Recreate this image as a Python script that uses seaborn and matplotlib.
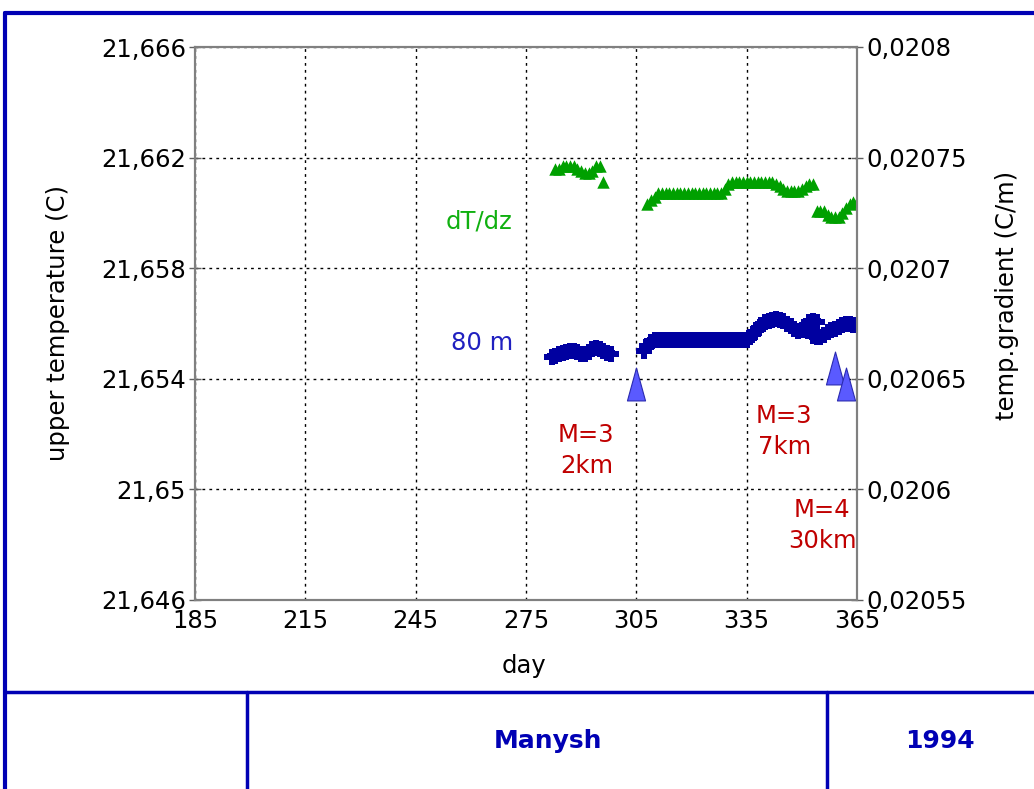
import matplotlib
matplotlib.use("Agg")
import matplotlib.pyplot as plt
import seaborn as sns
from matplotlib.path import Path
from matplotlib.lines import Line2D

# ---- data ----
# green: temperature gradient dT/dz (right axis, C/m)
grad_days = [283, 284, 285, 286, 287, 288, 289, 290, 291, 292, 293, 294, 295, 296,
             308, 309, 310, 311, 312, 313, 314, 315, 316, 317, 318, 319, 320, 321,
             322, 323, 324, 325, 326, 327, 328, 329, 330, 331, 332, 333, 334, 335,
             336, 337, 338, 339, 340, 341, 342, 343, 344, 345, 346, 347, 348, 349,
             350, 351, 352, 353,
             354, 355, 356, 357, 358, 359, 360, 361, 362, 363, 364, 365]
grad_vals = [0.020745, 0.020745, 0.020746, 0.020746, 0.020746, 0.020746, 0.020745,
             0.020744, 0.020743, 0.020743, 0.020744, 0.020746, 0.020746, 0.020739,
             0.020729, 0.020731, 0.020732, 0.020734, 0.020734, 0.020734, 0.020734,
             0.020734, 0.020734, 0.020734, 0.020734, 0.020734, 0.020734, 0.020734,
             0.020734, 0.020734, 0.020734, 0.020734, 0.020734, 0.020734, 0.020734,
             0.020736, 0.020738, 0.020739, 0.020739, 0.020739, 0.020739, 0.020739,
             0.020739, 0.020739, 0.020739, 0.020739, 0.020739, 0.020739, 0.020739,
             0.020738, 0.020737, 0.020736, 0.020735, 0.020735, 0.020735, 0.020735,
             0.020736, 0.020737, 0.020738, 0.020738,
             0.020726, 0.020726, 0.020726, 0.020724, 0.020723, 0.020723, 0.020723,
             0.020725, 0.020727, 0.020729, 0.020730, 0.020730]

# blue: upper temperature at 80 m (left axis, C)
temp_days = [282, 283, 284, 285, 286, 287, 288, 289, 290, 291, 292, 293, 294, 295,
             296, 297, 298,
             307, 308, 309, 310, 311, 312, 313, 314, 315, 316, 317, 318, 319, 320,
             321, 322, 323, 324, 325, 326, 327, 328, 329, 330, 331, 332, 333, 334,
             335, 336, 337, 338, 339, 340, 341, 342, 343, 344, 345, 346, 347, 348,
             349, 350, 351, 352, 353, 354,
             353, 354, 355, 356, 357, 358, 359, 360, 361, 362, 363, 364, 365]
temp_vals = [21.65478, 21.65482, 21.65488, 21.65494, 21.65498, 21.65500, 21.65502,
             21.65496, 21.65490, 21.65488, 21.65496, 21.65506, 21.65512, 21.65508,
             21.65500, 21.65494, 21.65490,
             21.65500, 21.65520, 21.65532, 21.65540, 21.65540, 21.65540, 21.65540,
             21.65540, 21.65540, 21.65540, 21.65540, 21.65540, 21.65540, 21.65540,
             21.65540, 21.65540, 21.65540, 21.65540, 21.65540, 21.65540, 21.65540,
             21.65540, 21.65540, 21.65540, 21.65540, 21.65540, 21.65540, 21.65540,
             21.65540, 21.65550, 21.65565, 21.65580, 21.65595, 21.65605, 21.65610,
             21.65612, 21.65615, 21.65612, 21.65608, 21.65600, 21.65590, 21.65580,
             21.65572, 21.65575, 21.65590, 21.65605, 21.65610, 21.65605,
             21.65555, 21.65552, 21.65550, 21.65558, 21.65568, 21.65575, 21.65580,
             21.65588, 21.65595, 21.65600, 21.65598, 21.65596, 21.65595]

# earthquakes
quake_days = [305, 359, 362]
quake_vals = [21.6538, 21.6544, 21.6538]
quake_labels = ["M=3\n2km", "M=3\n7km", "M=4\n30km"]
quake_label_days = [291.4, 345.2, 355.5]
quake_label_vals = [21.6514, 21.6521, 21.6487]

x_ticks = [185, 215, 245, 275, 305, 335, 365]
left_ticks = [21.646, 21.65, 21.654, 21.658, 21.662, 21.666]
left_labels = ["21,646", "21,65", "21,654", "21,658", "21,662", "21,666"]
right_ticks = [0.02055, 0.0206, 0.02065, 0.0207, 0.02075, 0.0208]
right_labels = ["0,02055", "0,0206", "0,02065", "0,0207", "0,02075", "0,0208"]

station = "Manysh"
year = "1994"

sns.set_style("white")
plt.rcParams['font.family'] = ['DejaVu Sans']
plt.rcParams['text.color'] = 'black'
plt.rcParams['axes.labelcolor'] = 'black'
plt.rcParams['xtick.color'] = 'black'
plt.rcParams['ytick.color'] = 'black'

frame_blue = "#0000b4"
fs = 17.5

fig = plt.figure(figsize=(10.34, 7.89), dpi=100)
ax = fig.add_axes([195 / 1034, 1 - 600 / 789, 662 / 1034, 553 / 789])
ax2 = ax.twinx()

# blue temperature
sns.scatterplot(x=temp_days, y=temp_vals, ax=ax, marker="P", s=140,
                color="#0000a0", edgecolor="#0000a0", linewidth=0, legend=False, zorder=3)

# quake triangles (tall, narrow)
tri = Path([(0, 1), (-0.55, -1), (0.55, -1), (0, 1)],
           [Path.MOVETO, Path.LINETO, Path.LINETO, Path.CLOSEPOLY])
sns.scatterplot(x=quake_days, y=quake_vals, ax=ax, marker=tri, s=560,
                color="#5a5aff", edgecolor="#2a2ab0", linewidth=0.8, legend=False, zorder=4)

for d, v, t in zip(quake_label_days, quake_label_vals, quake_labels):
    ax.text(d, v, t, color="#c00000", fontsize=fs, ha="center", va="center",
            linespacing=1.35, clip_on=True)

# green gradient
sns.scatterplot(x=grad_days, y=grad_vals, ax=ax2, marker="^", s=80,
                color="#00a000", edgecolor="#00a000", linewidth=0, legend=False)

ax.text(271.4, 21.6597, "dT/dz", color="#10b010", fontsize=fs, ha="right", va="center")
ax.text(271.4, 21.6553, "80 m", color="#2020c0", fontsize=fs, ha="right", va="center")

ax.set_xlim(185, 365)
ax.set_ylim(21.646, 21.666)
ax2.set_ylim(0.02055, 0.0208)
ax.set_xticks(x_ticks)
ax.set_xticklabels([str(t) for t in x_ticks])
ax.set_yticks(left_ticks)
ax.set_yticklabels(left_labels)
ax2.set_yticks(right_ticks)
ax2.set_yticklabels(right_labels)

ax.grid(True, color="black", linestyle=(0, (2, 3)), linewidth=1)
for a in (ax, ax2):
    a.tick_params(direction="inout", length=9, width=1, color="#606060",
                  labelsize=fs, labelcolor="black", pad=2)
    for s in a.spines.values():
        s.set_color("#808080")
        s.set_linewidth(1.5)

ax.set_xlabel("day", fontsize=fs)
ax.set_ylabel("upper temperature (C)", fontsize=fs)
ax2.set_ylabel("temp.gradient (C/m)", fontsize=fs)
ax.xaxis.set_label_coords(0.497, -0.097)
ax.yaxis.set_label_coords(-0.189, 0.5)
ax2.yaxis.set_label_coords(1.208, 0.55)

# page frame and title block
fig.add_artist(Line2D([5 / 1034, 1], [1 - 13 / 789, 1 - 13 / 789], color=frame_blue, lw=3))
fig.add_artist(Line2D([5 / 1034, 5 / 1034], [0, 1 - 13 / 789], color=frame_blue, lw=3))
fig.add_artist(Line2D([5 / 1034, 1], [1 - 692 / 789, 1 - 692 / 789], color=frame_blue, lw=2.5))
for xp in (247, 827):
    fig.add_artist(Line2D([xp / 1034, xp / 1034], [0, 1 - 692 / 789], color=frame_blue, lw=2.5))
fig.text(548 / 1034, 1 - 741 / 789, station, color=frame_blue, fontsize=18,
         fontweight="bold", ha="center", va="center")
fig.text(940 / 1034, 1 - 741 / 789, year, color=frame_blue, fontsize=18,
         fontweight="bold", ha="center", va="center")

fig.savefig("out.png", dpi=100)
